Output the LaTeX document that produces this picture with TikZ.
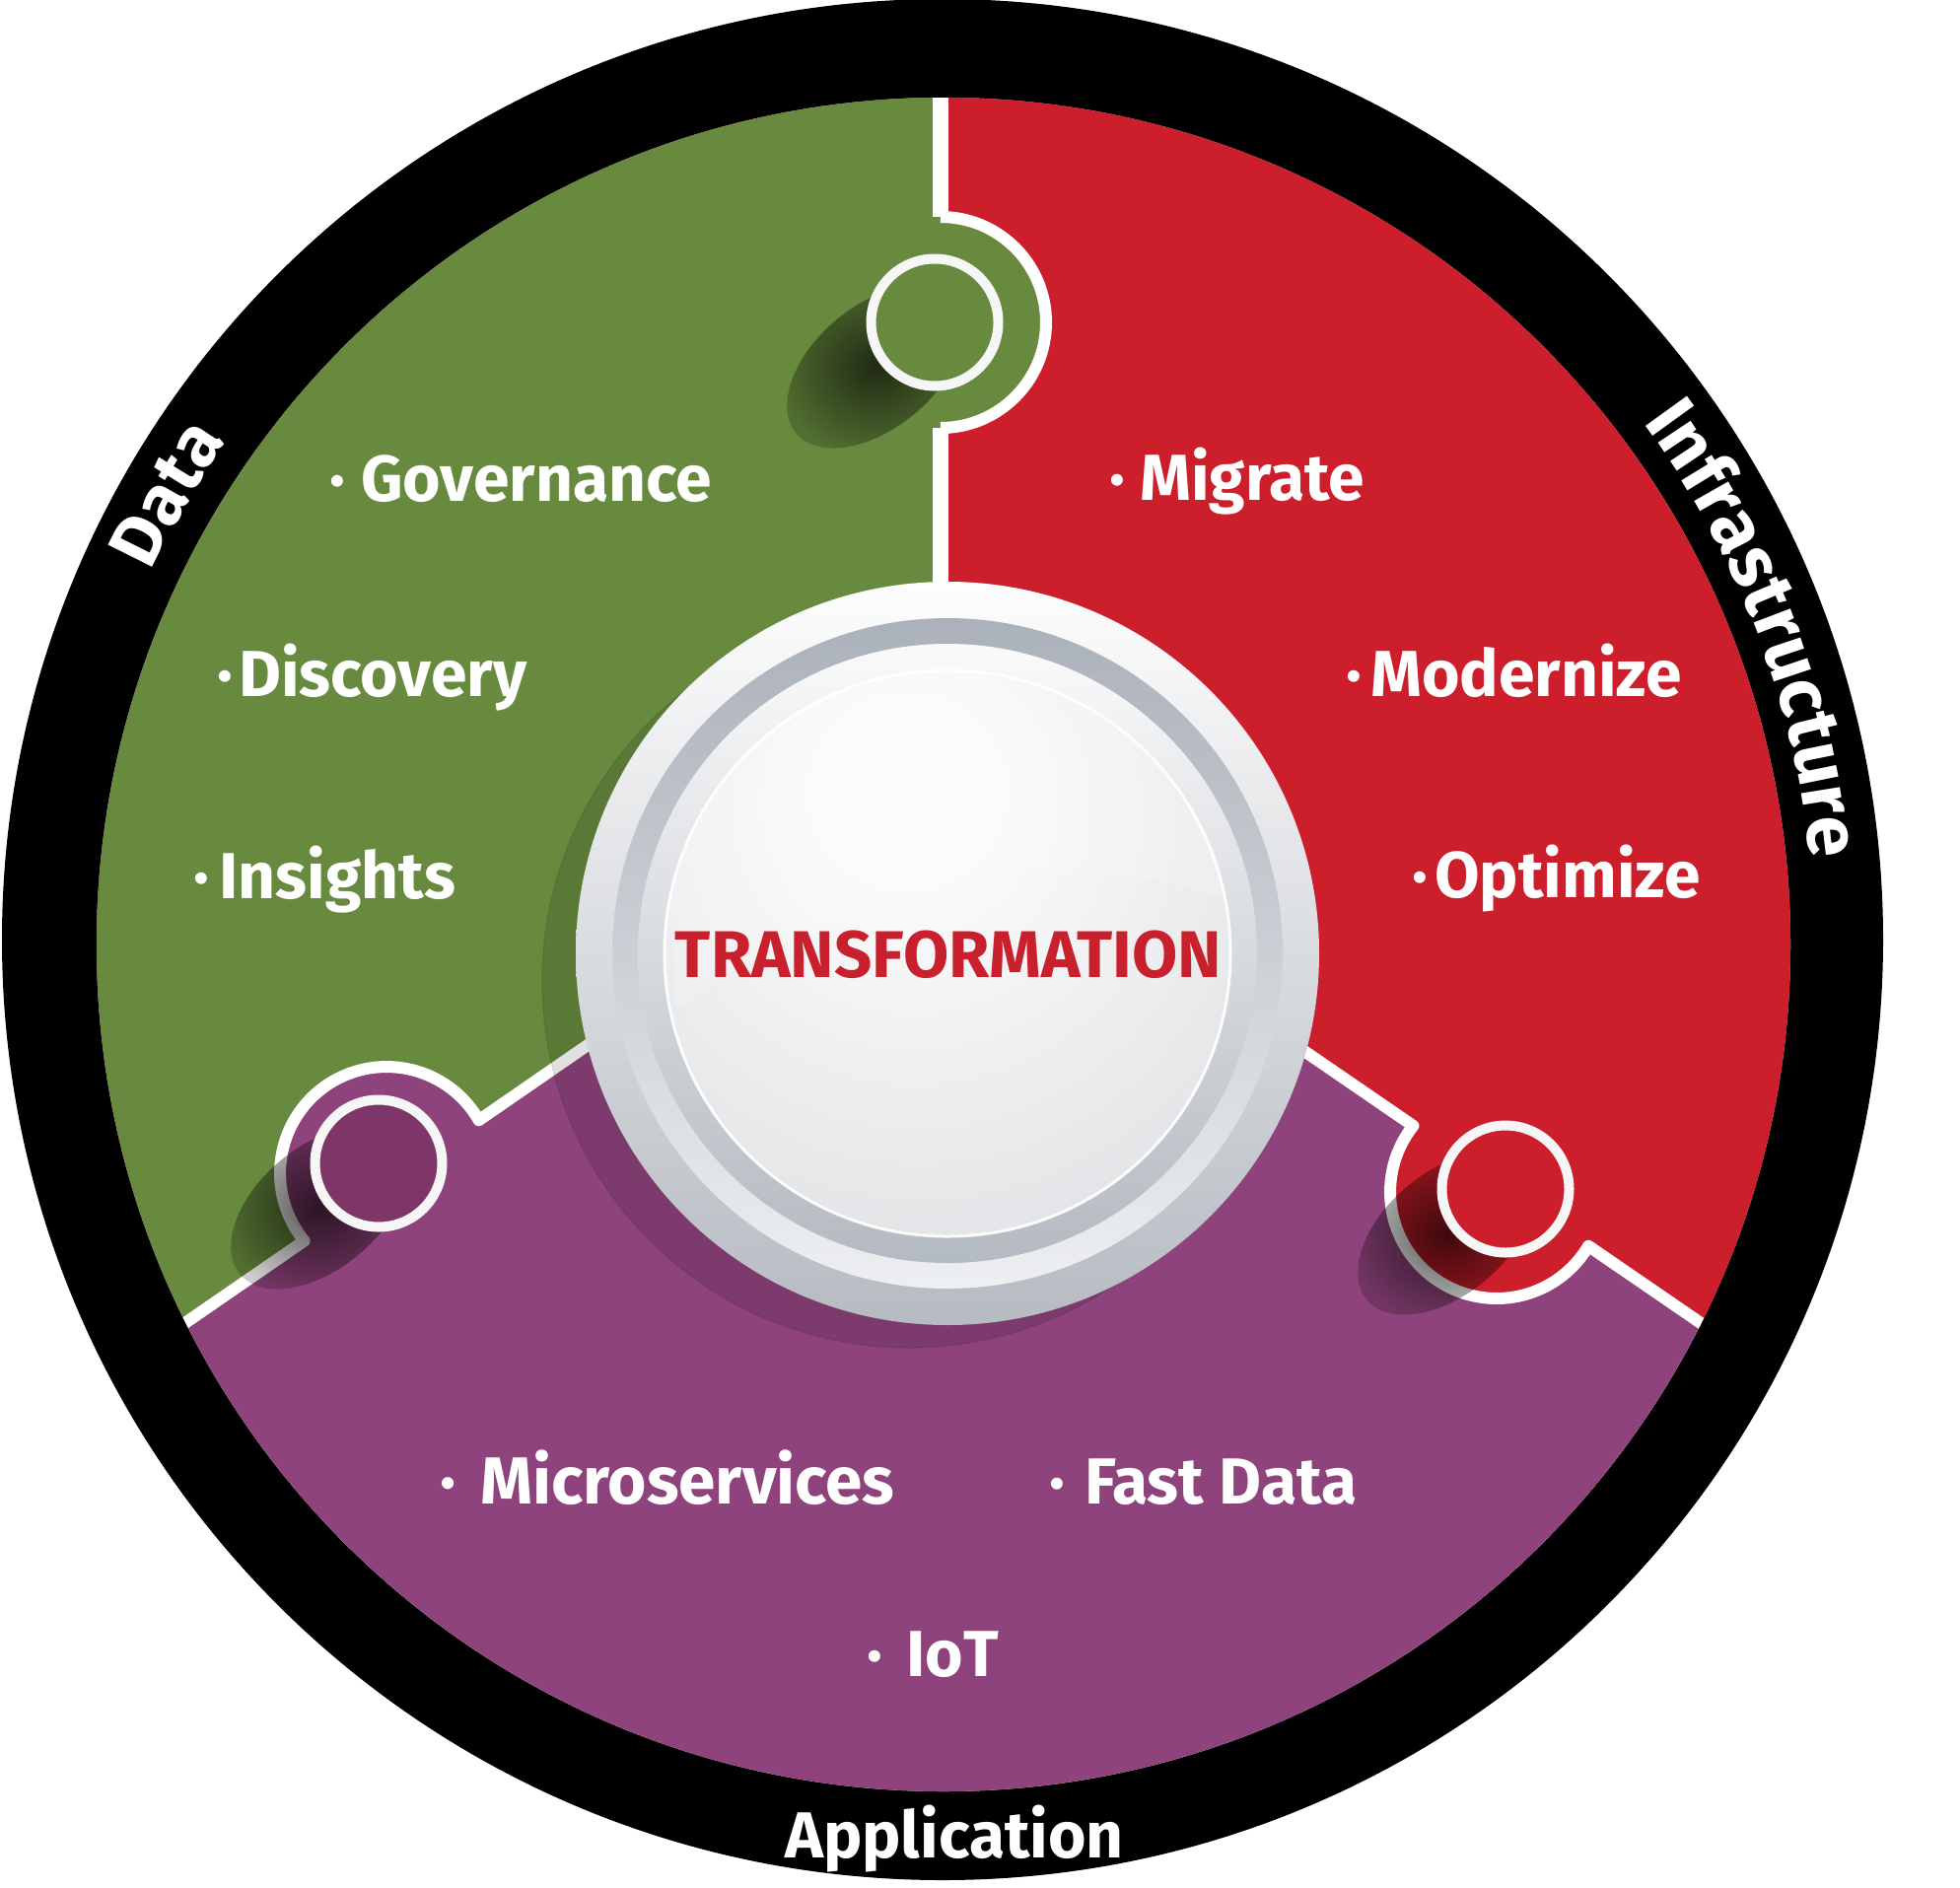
\documentclass[tikz,border=0pt]{standalone}
\usepackage{fontspec}
\setmainfont{Fira Sans}
\usetikzlibrary{fadings,decorations.text}

\definecolor{segGreen}{HTML}{678A3E}
\definecolor{segRed}{HTML}{CC1F2B}
\definecolor{segPurple}{HTML}{8F437C}
\definecolor{knobPurple}{HTML}{7E3669}
\definecolor{titleRed}{HTML}{C9202D}
\definecolor{ringWhite}{HTML}{F6F6F6}
\definecolor{ringAtop}{HTML}{FDFDFD}
\definecolor{ringAbot}{HTML}{B6BBC2}
\definecolor{ringBtop}{HTML}{ABB1BA}
\definecolor{ringBbot}{HTML}{EDEFF1}
\definecolor{ringCtop}{HTML}{FAFAFB}
\definecolor{ringCbot}{HTML}{B4BAC1}
\definecolor{sphA}{HTML}{FBFBFB}
\definecolor{sphB}{HTML}{DEE0E3}
\definecolor{sphC}{HTML}{BEC2C7}

\pgfdeclareradialshading{spherelight}{\pgfpoint{-4bp}{16bp}}{%
  color(0bp)=(sphA); color(8bp)=(sphA); color(40bp)=(sphB);
  color(52bp)=(sphC); color(80bp)=(sphC)}
\tikzfading[name=knobfade, inner color=transparent!35, outer color=transparent!90]

% bullet set to the left of the word, with a given gap
\newcommand{\itembullet}[1]{\llap{·\hspace{#1pt}}}

\begin{document}
\begin{tikzpicture}[x=1pt, y=-1pt,
  itemtxt/.style={text=white, font=\bfseries\fontsize{66}{72}\selectfont,
    inner sep=0pt, anchor=base west},
  ringtxt/.style={text=white, font=\bfseries\fontsize{66}{72}\selectfont,
    inner sep=0pt},
  gapline/.style={draw=white, line width=12pt, line join=round},
  knobring/.style={draw=ringWhite, line width=10pt},
  knobshadow/.style={black, opacity=0.10},
]
\useasboundingbox (0,0) rectangle (1988,1914);

% outer black band and the white base under the segments
\fill[black] (956,953) circle[radius=954];
\fill[white] (957,958) circle[radius=859];

\begin{scope}
  \clip (957,958) circle[radius=859];
  % three segments
  \fill[segPurple] (0,0) rectangle (1988,1914);
  \fill[segGreen] (954,813) -- (-692,1949) -- (-692,-200) -- (954,-200) -- cycle;
  \fill[segRed] (954,813) -- (954,-200) -- (2700,-200) -- (2603,1944) -- cycle;
  % puzzle tabs
  \fill[segGreen] (954,327) circle[radius=107];
  \fill[segPurple] (392,1190) circle[radius=108];
  \fill[segRed] (1518,1209) circle[radius=108];
  % white joints between the segments
  \draw[gapline, line width=16pt] (954,813) -- (954,434);
  \draw[gapline, line width=16pt] (954,220) -- (954,60);
  \draw[gapline] (954,434) arc[start angle=90, end angle=-90, radius=107];
  \draw[gapline] (954,813) -- (485.7,1136.2)
    arc[start angle=-29.9, end angle=-219.4, radius=108] -- (131,1381);
  \draw[gapline] (954,813) -- (1433.4,1141.9)
    arc[start angle=218.4, end angle=30.5, radius=108] -- (1779,1379);
\end{scope}

% shadows under the tab rings
\foreach \sx/\sy in {888/372, 324/1225, 1467/1251}{
  \fill[knobshadow, rotate around={40:(\sx,\sy)}] (\sx,\sy) ellipse[x radius=105, y radius=62];
  \fill[black, path fading=knobfade, rotate around={40:(\sx,\sy)}] (\sx,\sy) ellipse[x radius=105, y radius=62];
}

% tab rings
\fill[segGreen] (948,327) circle[radius=60];
\draw[knobring] (948,327) circle[radius=64.5];
\fill[knobPurple] (384,1180) circle[radius=60];
\draw[knobring] (384,1180) circle[radius=64.5];
\fill[segRed] (1527,1206) circle[radius=60];
\draw[knobring] (1527,1206) circle[radius=64.5];

% centre hub
\fill[black, opacity=0.12] (922,995) circle[radius=372];
\draw[black, opacity=0.08, line width=1.5pt] (922,995) circle[radius=372];
\shade[top color=ringAtop, bottom color=ringAbot] (961,967) circle[radius=377];
\shade[top color=ringBtop, bottom color=ringBbot] (961,967) circle[radius=340];
\shade[top color=ringCtop, bottom color=ringCbot] (961,967) circle[radius=314];
\shade[shading=spherelight] (961,967) circle[radius=288];
\begin{scope}
  \clip (961,967) circle[radius=288];
  \fill[white, opacity=0.16] (686,1023) .. controls (790,950) and (930,890) .. (1031,884)
    .. controls (1130,880) and (1200,895) .. (1262,918) -- (1262,600) -- (660,600) -- cycle;
\end{scope}
\draw[white, line width=3pt, opacity=0.9] (961,967) circle[radius=287];

\node[font=\bfseries\fontsize{67}{72}\selectfont, text=titleRed, inner sep=0pt, anchor=base]
  (hub) at (962,991) {TRANSFORMATION};

% segment items (anchored at the start of each word)
\node[itemtxt] (gov) at (366,508) {\itembullet{16}Governance};
\node[itemtxt] (dis) at (242,706) {\itembullet{6}Discovery};
\node[itemtxt] (ins) at (222,911) {\itembullet{10}Insights};
\node[itemtxt] (mig) at (1156,507) {\itembullet{15}Migrate};
\node[itemtxt] (mod) at (1390,706) {\itembullet{9}Modernize};
\node[itemtxt] (opt) at (1455,910) {\itembullet{7}Optimize};
\node[itemtxt, font=\bfseries\fontsize{67.5}{72}\selectfont] (mic) at (487,1525) {\itembullet{25}Microservices};
\node[itemtxt] (fst) at (1100,1525) {\itembullet{20}Fast Data};
\node[itemtxt] (iot) at (919,1700) {\itembullet{24}IoT};

% band captions
\node[ringtxt, anchor=base] (app) at (968,1884) {Application};
\path[decorate, decoration={text along path, text color=white, text align=center,
    text={|\bfseries\fontsize{75}{80}\selectfont|Infrastructure}}]
  (956,955) ++(-51:884) arc[start angle=-51, end angle=9, radius=884];
\path[decorate, decoration={text along path, text color=white, text align=center,
    text={|\bfseries\fontsize{72}{78}\selectfont|Data}}]
  (956,955) ++(-180:886) arc[start angle=-180, end angle=-120, radius=886];
\end{tikzpicture}
\end{document}
